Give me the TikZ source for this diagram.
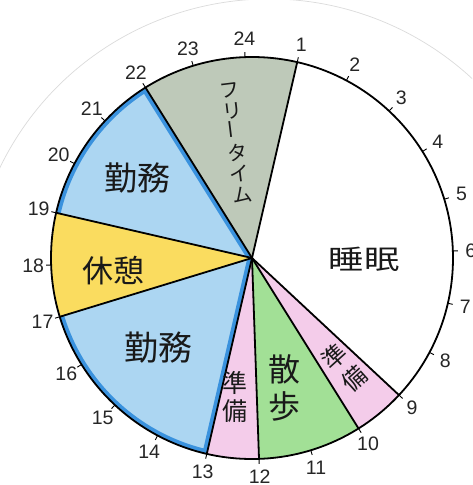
\documentclass[tikz,border=0pt]{standalone}
\usepackage{fontspec}
\setmainfont{Liberation Sans}
\newfontfamily\cjk{Noto Sans CJK JP}
\definecolor{freecol}{RGB}{190,201,185}
\definecolor{workcol}{RGB}{172,214,242}
\definecolor{workedge}{RGB}{58,146,222}
\definecolor{restcol}{RGB}{250,220,95}
\definecolor{prepcol}{RGB}{244,204,234}
\definecolor{walkcol}{RGB}{162,224,150}
\tikzset{
  outline/.style={draw=black, line width=1.8pt, line cap=round, line join=round},
  tickmark/.style={draw=black, line width=0.9pt},
  hourlbl/.style={inner sep=0pt, text=black!85, font=\fontsize{19.5}{21}\selectfont},
  paperedge/.style={draw=black!14, line width=0.7pt},
  band/.style={draw=workedge, line width=9pt, line join=round},
  jtext/.style={inner sep=0pt, align=center, text=black!90}
}
\newcommand\wedgepath[2]{(c) -- ++(#1:201) arc[start angle=#1, end angle=#2, radius=201] -- cycle}
\begin{document}
\begin{tikzpicture}[x=1pt,y=-1pt]
\useasboundingbox (0,0) rectangle (472,485);
\clip (0,0) rectangle (472,485);
\fill[white] (0,0) rectangle (472,485);
\coordinate (c) at (252,258);
\coordinate (paper) at (269,298);
% faint paper edge (upper part only)
\draw[paperedge] (paper) ++(205:299) arc[start angle=205, end angle=345, radius=299];
% wedges
\fill[freecol] \wedgepath{238}{283};
\fill[prepcol] \wedgepath{43}{58};
\fill[walkcol] \wedgepath{58}{88};
\fill[prepcol] \wedgepath{88}{103};
\fill[workcol] \wedgepath{103}{163};
\fill[restcol] \wedgepath{163}{193};
\fill[workcol] \wedgepath{193}{238};
% darker blue rims on the work wedges
\begin{scope}
  \clip \wedgepath{193}{238};
  \draw[band] (c) ++(193:201) arc[start angle=193, end angle=238, radius=201] -- (c);
\end{scope}
\begin{scope}
  \clip \wedgepath{103}{163};
  \draw[band] (c) -- ++(103:201) arc[start angle=103, end angle=163, radius=201];
\end{scope}
% outlines
\draw[outline] (c) circle[radius=201];
\foreach \h in {1,9,10,12,13,17,19,22} {
  \pgfmathsetmacro\ang{15*\h-92}
  \draw[outline] (c) -- ++(\ang:201);
}
% ticks and hour labels
\foreach \h in {1,...,24} {
  \pgfmathsetmacro\ang{15*\h-92}
  \draw[tickmark] (c) ++(\ang:201) -- ++(\ang:5);
  \node[hourlbl] (hour\h) at ([shift={(\ang:219)}]c) {\h};
}
% labels
\node[jtext, rotate=7, font=\cjk\fontsize{20}{21.3}\selectfont] (free) at (236,143)
  {フ\\リ\\\rotatebox{90}{ー}\\タ\\イ\\ム};
\node[jtext, font=\cjk\fontsize{33}{36}\selectfont] (work1) at (137,178) {勤務};
\node[jtext, font=\cjk\fontsize{31}{34}\selectfont] (rest) at (113,271) {休憩};
\node[jtext, font=\cjk\fontsize{34}{36}\selectfont] (work2) at (158,348) {勤務};
\node[jtext, xscale=1.3, font=\cjk\fontsize{27}{30}\selectfont] (sleep) at (364,259) {睡眠};
\node[jtext, font=\cjk\fontsize{25}{28}\selectfont] (prep1) at (235,397) {準\\備};
\node[jtext, font=\cjk\fontsize{32}{37}\selectfont] (walk) at (284,388) {散\\歩};
\node[jtext, rotate=42, font=\cjk\fontsize{24}{30}\selectfont] (prep2) at (344,368) {準\\備};
\end{tikzpicture}
\end{document}
